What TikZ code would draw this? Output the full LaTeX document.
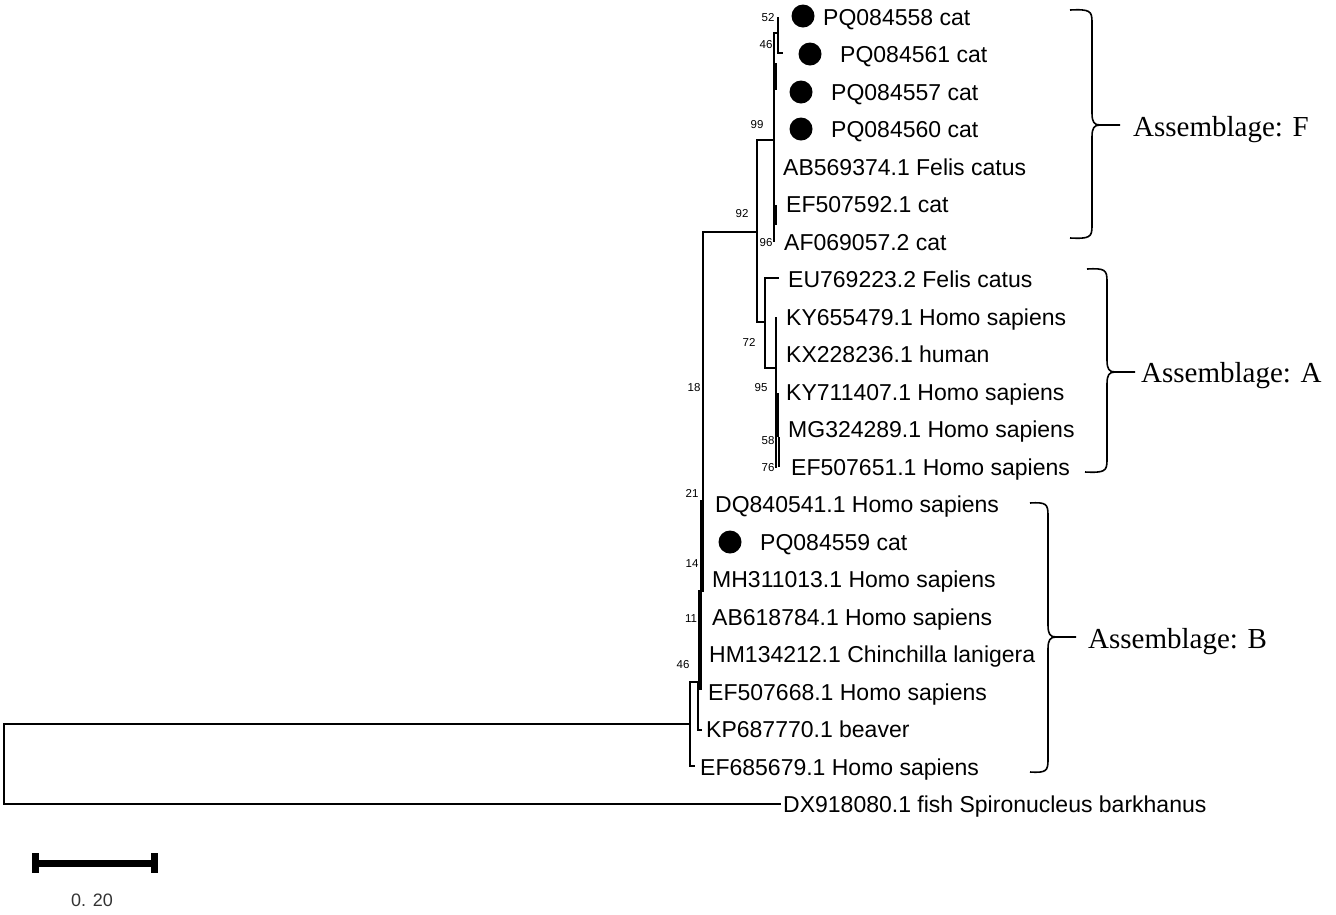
\documentclass[tikz,border=0pt]{standalone}
\usepackage{fontspec}
\setmainfont{Liberation Sans}
\newfontfamily\serifA{Liberation Serif}
\begin{document}
\begin{tikzpicture}[x=1pt,y=-1pt,
  br/.style={line width=1.3pt,line cap=rect},
  thk/.style={line width=4pt},
  tip/.style={anchor=base west,inner sep=0pt,font=\fontsize{23}{26}\selectfont},
  bs/.style={inner sep=0pt,font=\fontsize{11.5}{13}\selectfont},
  dot/.style={circle,fill=black,minimum size=23pt,inner sep=0pt},
  brace/.style={line width=1.6pt,line join=round},
  asm/.style={anchor=base west,inner sep=0pt,font=\serifA\fontsize{29}{32}\selectfont}]
\useasboundingbox (0,0) rectangle (1336,914);
% tip labels
\node[tip] (t1) at (823,25) {PQ084558 cat};
\node[tip] (t2) at (840,62) {PQ084561 cat};
\node[tip] (t3) at (831,100) {PQ084557 cat};
\node[tip] (t4) at (831,137) {PQ084560 cat};
\node[tip] (t5) at (783,175) {AB569374.1 Felis catus};
\node[tip] (t6) at (786,212) {EF507592.1 cat};
\node[tip] (t7) at (784,250) {AF069057.2 cat};
\node[tip] (t8) at (788,287) {EU769223.2 Felis catus};
\node[tip] (t9) at (786,325) {KY655479.1 Homo sapiens};
\node[tip] (t10) at (786,362) {KX228236.1 human};
\node[tip] (t11) at (786,400) {KY711407.1 Homo sapiens};
\node[tip] (t12) at (788,437) {MG324289.1 Homo sapiens};
\node[tip] (t13) at (791,475) {EF507651.1 Homo sapiens};
\node[tip] (t14) at (715,512) {DQ840541.1 Homo sapiens};
\node[tip] (t15) at (760,550) {PQ084559 cat};
\node[tip] (t16) at (712,587) {MH311013.1 Homo sapiens};
\node[tip] (t17) at (712,625) {AB618784.1 Homo sapiens};
\node[tip] (t18) at (709,662) {HM134212.1 Chinchilla lanigera};
\node[tip] (t19) at (708,700) {EF507668.1 Homo sapiens};
\node[tip] (t20) at (706,737) {KP687770.1 beaver};
\node[tip] (t21) at (700,775) {EF685679.1 Homo sapiens};
\node[tip] (t22) at (783,812) {DX918080.1 fish Spironucleus barkhanus};
% dots
\node[dot] (d1) at (803,16) {};
\node[dot] (d2) at (810,54) {};
\node[dot] (d3) at (801,92) {};
\node[dot] (d4) at (801,129) {};
\node[dot] (d5) at (730,542) {};
% internal coordinates
\coordinate (root) at (4,724);
\coordinate (rootb) at (4,804);
\coordinate (n1) at (690,724);
\coordinate (n1t) at (690,682);
\coordinate (n1b) at (690,766);
\coordinate (n2t) at (698,682);
\coordinate (n2b) at (698,730);
\coordinate (nB) at (703,232);
\coordinate (nFA) at (757,232);
\coordinate (nFAt) at (757,140);
\coordinate (nFAb) at (757,322);
\coordinate (nF) at (774,140);
\coordinate (nA) at (765,322);
% branches
\draw[br] (root) -- (rootb) -- (780,804);
\draw[br] (root) -- (n1);
\draw[br] (n1t) -- (n1b) -- (694,766);
\draw[br] (n1t) -- (n2t) -- (n2b) -- (701,730);
\draw[thk] (700,590) -- (700,690);
\draw[thk] (702,500) -- (702,592);
\draw[br] (nB) -- (703,500);
\draw[br] (nB) -- (nFA);
\draw[br] (nFAt) -- (nFAb);
\draw[br] (nFAt) -- (nF);
\draw[br] (774,33) -- (774,241);
\draw[thk] (775,63) -- (775,90);
\draw[thk] (775,205) -- (775,225);
\draw[br] (774,33) -- (778,33);
\draw[br] (778,18) -- (778,53) -- (782,53);
\draw[br] (nFAb) -- (nA);
\draw[br] (765,278) -- (765,368);
\draw[br] (765,278) -- (778,278);
\draw[br] (765,368) -- (776,368);
\draw[br] (776,318) -- (776,467);
\draw[thk] (777,393) -- (777,437);
\draw[line width=2.5pt] (779,437) -- (779,467);
% bootstrap values
\node[bs] (b1) at (768,18) {52};
\node[bs] (b2) at (766,45) {46};
\node[bs] (b3) at (757,125) {99};
\node[bs] (b4) at (742,214) {92};
\node[bs] (b5) at (766,243) {96};
\node[bs] (b6) at (749,342) {72};
\node[bs] (b7) at (761,388) {95};
\node[bs] (b8) at (768,441) {58};
\node[bs] (b9) at (768,468) {76};
\node[bs] (b10) at (694,388) {18};
\node[bs] (b11) at (692,493) {21};
\node[bs] (b12) at (692,564) {14};
\node[bs] (b13) at (691,619) {11};
\node[bs] (b14) at (683,665) {46};
% braces
\draw[brace] (1070,10) .. controls (1090,9) and (1092,11) .. (1092,22) -- (1092,113)
  .. controls (1092,122) and (1094,125) .. (1100,125) -- (1120,125);
\draw[brace] (1100,125) .. controls (1094,125) and (1092,128) .. (1092,137) -- (1092,226)
  .. controls (1092,237) and (1090,239) .. (1070,238);
\node[asm] (aF) at (1133,136) {Assemblage: F};
\draw[brace] (1087,269) .. controls (1105,268) and (1107,270) .. (1107,281) -- (1107,360)
  .. controls (1107,369) and (1109,372) .. (1115,372) -- (1135,372);
\draw[brace] (1115,372) .. controls (1109,372) and (1107,375) .. (1107,384) -- (1107,460)
  .. controls (1107,471) and (1105,473) .. (1085,472);
\node[asm] (aA) at (1141,382) {Assemblage: A};
\draw[brace] (1030,503) .. controls (1046,502) and (1048,504) .. (1048,515) -- (1048,625)
  .. controls (1048,634) and (1050,637) .. (1056,637) -- (1076,637);
\draw[brace] (1056,637) .. controls (1050,637) and (1048,640) .. (1048,649) -- (1048,760)
  .. controls (1048,771) and (1046,773) .. (1030,772);
\node[asm] (aB) at (1088,648) {Assemblage: B};
% scale bar
\coordinate (s1) at (35,863);
\coordinate (s2) at (154,863);
\draw[line width=7pt] (s1) -- (s2);
\draw[line width=7pt] (35,853) -- (35,873);
\draw[line width=7pt] (154,853) -- (154,873);
\node[inner sep=0pt,font=\fontsize{18}{20}\selectfont,text=black!80] (sl) at (92,900) {0. 20};
\end{tikzpicture}
\end{document}
